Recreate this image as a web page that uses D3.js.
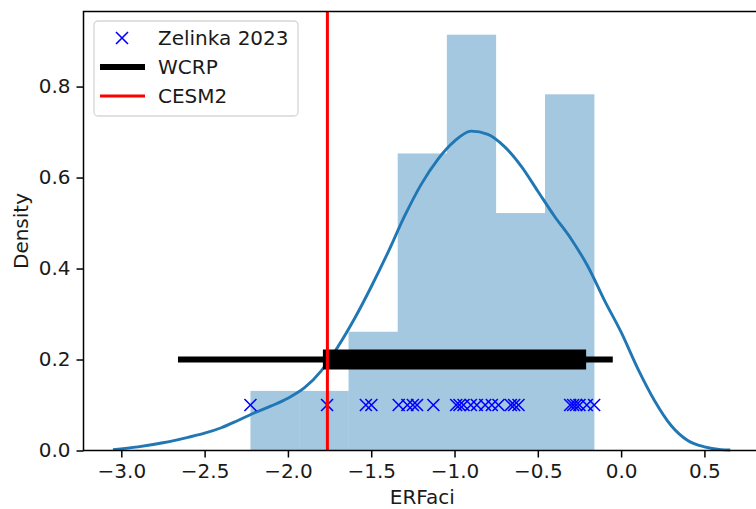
<!DOCTYPE html>
<html>
<head>
<meta charset="utf-8">
<script src="https://cdn.jsdelivr.net/npm/d3@7"></script>
<style>
  body { margin: 0; background: #fff; }
  svg { display: block; font-family: "DejaVu Sans", sans-serif; }
</style>
</head>
<body>
<div id="chart"></div>
<script>
// Zelinka 2023 model values (ERFaci)
const zelinka = [
  -2.225, -1.765, -1.532, -1.499,
  -1.335, -1.283, -1.250, -1.225, -1.127,
  -0.990, -0.970, -0.946, -0.902, -0.866, -0.816, -0.776,
  -0.736, -0.662, -0.642, -0.616,
  -0.306, -0.288, -0.270, -0.250, -0.206, -0.162
];

// histogram (density)
const binEdges = [-2.225, -1.930, -1.636, -1.341, -1.046, -0.752, -0.457, -0.162];
const binDensity = [0.131, 0.131, 0.261, 0.653, 0.914, 0.522, 0.783];

// kde curve
const kdeX = [-3.05, -2.9, -2.75, -2.6, -2.5, -2.4, -2.3, -2.2, -2.1, -2.0, -1.9, -1.8,
  -1.7, -1.6, -1.5, -1.4, -1.3, -1.2, -1.1, -1.0, -0.9, -0.8, -0.7, -0.6, -0.5, -0.4,
  -0.3, -0.2, -0.1, 0.0, 0.1, 0.2, 0.3, 0.4, 0.5, 0.6, 0.655];
const kdeY = [0.002, 0.008, 0.017, 0.029, 0.038, 0.05, 0.066, 0.083, 0.098, 0.115, 0.138, 0.175,
  0.228, 0.29, 0.36, 0.435, 0.515, 0.585, 0.64, 0.68, 0.702, 0.695, 0.668, 0.625, 0.57, 0.515,
  0.465, 0.405, 0.33, 0.26, 0.18, 0.11, 0.055, 0.022, 0.008, 0.002, 0.001];

// WCRP ranges
const wcrpOuter = [-2.66, -0.05];
const wcrpInner = [-1.79, -0.21];
const wcrpLevel = 0.2;

const cesm2 = -1.763;
const markerLevel = 0.1;

const xTicks = [-3.0, -2.5, -2.0, -1.5, -1.0, -0.5, 0.0, 0.5];
const yTicks = [0.0, 0.2, 0.4, 0.6, 0.8];

const width = 756, height = 509;
const margin = { top: 11.5, left: 83.5, bottom: 58.5 };
const fs = "20px";

const x = d3.scaleLinear().domain([-3.227, 0.84]).range([margin.left, margin.left + 4.067 * 166.6]);
const y = d3.scaleLinear().domain([0, 0.965]).range([height - margin.bottom, margin.top]);

const svg = d3.select("#chart").append("svg")
  .attr("width", width)
  .attr("height", height);

// histogram bars
const bars = binDensity.map((d, i) => ({ x0: binEdges[i], x1: binEdges[i + 1], v: d }));
svg.append("g").selectAll("rect").data(bars).enter().append("rect")
  .attr("x", d => x(d.x0))
  .attr("y", d => y(d.v))
  .attr("width", d => x(d.x1) - x(d.x0) + 0.3)
  .attr("height", d => y(0) - y(d.v))
  .style("fill", "#a5c8e1");

// kde
const kde = kdeX.map((v, i) => [v, kdeY[i]]);
svg.append("path")
  .datum(kde)
  .attr("d", d3.line().x(d => x(d[0])).y(d => y(d[1])).curve(d3.curveMonotoneX))
  .style("fill", "none")
  .style("stroke", "#1f77b4")
  .style("stroke-width", 2.9);

// X markers
const ms = 6;
const marks = svg.append("g");
zelinka.forEach(v => {
  const cx = x(v), cy = y(markerLevel);
  marks.append("path")
    .attr("d", `M${cx - ms},${cy - ms}L${cx + ms},${cy + ms}M${cx - ms},${cy + ms}L${cx + ms},${cy - ms}`)
    .style("stroke", "#0000ff")
    .style("stroke-width", 1.6)
    .style("fill", "none");
});

// WCRP
svg.append("line")
  .attr("x1", x(wcrpOuter[0])).attr("x2", x(wcrpOuter[1]))
  .attr("y1", y(wcrpLevel)).attr("y2", y(wcrpLevel))
  .style("stroke", "#000").style("stroke-width", 6);
svg.append("line")
  .attr("x1", x(wcrpInner[0])).attr("x2", x(wcrpInner[1]))
  .attr("y1", y(wcrpLevel)).attr("y2", y(wcrpLevel))
  .style("stroke", "#000").style("stroke-width", 20);

// CESM2
svg.append("line")
  .attr("x1", x(cesm2)).attr("x2", x(cesm2))
  .attr("y1", y.range()[0]).attr("y2", y.range()[1])
  .style("stroke", "#ff0000").style("stroke-width", 3);

// axes
const xAxis = d3.axisBottom(x).tickValues(xTicks).tickFormat(d3.format(".1f")).tickSize(7).tickPadding(6);
const yAxis = d3.axisLeft(y).tickValues(yTicks).tickFormat(d3.format(".1f")).tickSize(7).tickPadding(6);

const gx = svg.append("g").attr("transform", `translate(0,${y(0)})`).call(xAxis);
const gy = svg.append("g").attr("transform", `translate(${margin.left},0)`).call(yAxis);
[gx, gy].forEach(g => {
  g.select(".domain").remove();
  g.selectAll(".tick line").style("stroke", "#000").style("stroke-width", 1.5);
  g.selectAll(".tick text").style("font-size", fs).style("fill", "#1a1a1a")
    .style("font-family", "DejaVu Sans");
});

// spines
svg.append("path")
  .attr("d", `M${x.range()[1]},${y.range()[1]}H${margin.left}V${y(0)}H${x.range()[1]}`)
  .style("fill", "none").style("stroke", "#000").style("stroke-width", 1.5);

// axis labels
svg.append("text")
  .attr("x", (margin.left + x.range()[1]) / 2)
  .attr("y", 504)
  .attr("text-anchor", "middle")
  .style("font-size", fs).style("fill", "#1a1a1a")
  .text("ERFaci");
svg.append("text")
  .attr("transform", `translate(28,${(y(0) + margin.top) / 2}) rotate(-90)`)
  .attr("text-anchor", "middle")
  .style("font-size", fs).style("fill", "#1a1a1a")
  .text("Density");

// legend
const lg = svg.append("g");
lg.append("rect")
  .attr("x", 94).attr("y", 21).attr("width", 204).attr("height", 95)
  .attr("rx", 4)
  .style("fill", "#fff").style("fill-opacity", 0.8)
  .style("stroke", "#d6d6d6").style("stroke-width", 1.3);
const lx0 = 100, lx1 = 145, ltx = 158;
lg.append("path")
  .attr("d", `M${122 - ms},${38 - ms}L${122 + ms},${38 + ms}M${122 - ms},${38 + ms}L${122 + ms},${38 - ms}`)
  .style("stroke", "#0000ff").style("stroke-width", 1.6);
lg.append("line").attr("x1", lx0).attr("x2", lx1).attr("y1", 67).attr("y2", 67)
  .style("stroke", "#000").style("stroke-width", 6);
lg.append("line").attr("x1", lx0).attr("x2", lx1).attr("y1", 96).attr("y2", 96)
  .style("stroke", "#ff0000").style("stroke-width", 3);
const legendLabels = ["Zelinka 2023", "WCRP", "CESM2"];
lg.selectAll("text.lab").data(legendLabels).enter().append("text")
  .attr("class", "lab")
  .attr("x", ltx)
  .attr("y", (d, i) => 38 + i * 29)
  .attr("dy", "0.35em")
  .style("font-size", fs).style("fill", "#1a1a1a")
  .text(d => d);
</script>
</body>
</html>
